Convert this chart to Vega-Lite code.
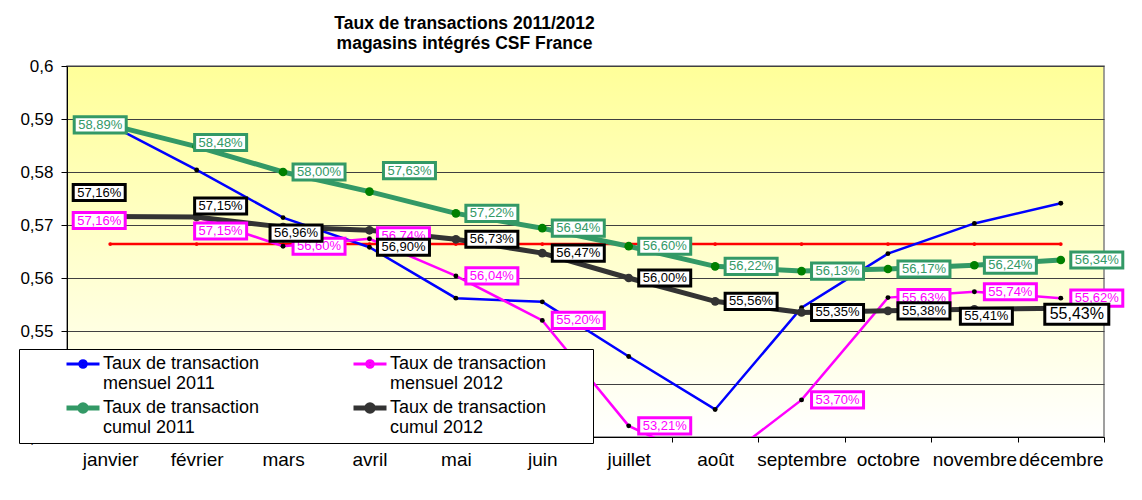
{
  "$schema": "https://vega.github.io/schema/vega-lite/v6.json",
  "width": 1037,
  "height": 371,
  "autosize": {"type": "none"},
  "padding": {"left": 67, "top": 66, "right": 38, "bottom": 63},
  "background": "white",
  "title": {
    "text": ["Taux de transactions 2011/2012", "magasins intégrés CSF France"],
    "fontSize": 17.5, "fontWeight": "bold", "color": "black", "font": "Liberation Sans",
    "anchor": "middle", "dx": -121, "offset": 5, "lineHeight": 20
  },
  "datasets": {
    "series": [
      {"mois": "janvier", "serie": "Taux de transaction mensuel 2011", "valeur": 0.5889},
      {"mois": "février", "serie": "Taux de transaction mensuel 2011", "valeur": 0.5804},
      {"mois": "mars", "serie": "Taux de transaction mensuel 2011", "valeur": 0.5714},
      {"mois": "avril", "serie": "Taux de transaction mensuel 2011", "valeur": 0.5658},
      {"mois": "mai", "serie": "Taux de transaction mensuel 2011", "valeur": 0.5562},
      {"mois": "juin", "serie": "Taux de transaction mensuel 2011", "valeur": 0.5555},
      {"mois": "juillet", "serie": "Taux de transaction mensuel 2011", "valeur": 0.5452},
      {"mois": "août", "serie": "Taux de transaction mensuel 2011", "valeur": 0.5352},
      {"mois": "septembre", "serie": "Taux de transaction mensuel 2011", "valeur": 0.5544},
      {"mois": "octobre", "serie": "Taux de transaction mensuel 2011", "valeur": 0.5646},
      {"mois": "novembre", "serie": "Taux de transaction mensuel 2011", "valeur": 0.5703},
      {"mois": "décembre", "serie": "Taux de transaction mensuel 2011", "valeur": 0.5741},
      {"mois": "janvier", "serie": "Taux de transaction mensuel 2012", "valeur": 0.5716},
      {"mois": "février", "serie": "Taux de transaction mensuel 2012", "valeur": 0.5715},
      {"mois": "mars", "serie": "Taux de transaction mensuel 2012", "valeur": 0.5660},
      {"mois": "avril", "serie": "Taux de transaction mensuel 2012", "valeur": 0.5674},
      {"mois": "mai", "serie": "Taux de transaction mensuel 2012", "valeur": 0.5604},
      {"mois": "juin", "serie": "Taux de transaction mensuel 2012", "valeur": 0.5520},
      {"mois": "juillet", "serie": "Taux de transaction mensuel 2012", "valeur": 0.5321},
      {"mois": "août", "serie": "Taux de transaction mensuel 2012", "valeur": 0.5245},
      {"mois": "septembre", "serie": "Taux de transaction mensuel 2012", "valeur": 0.5370},
      {"mois": "octobre", "serie": "Taux de transaction mensuel 2012", "valeur": 0.5563},
      {"mois": "novembre", "serie": "Taux de transaction mensuel 2012", "valeur": 0.5574},
      {"mois": "décembre", "serie": "Taux de transaction mensuel 2012", "valeur": 0.5562},
      {"mois": "janvier", "serie": "Taux de transaction cumul 2011", "valeur": 0.5889},
      {"mois": "février", "serie": "Taux de transaction cumul 2011", "valeur": 0.5848},
      {"mois": "mars", "serie": "Taux de transaction cumul 2011", "valeur": 0.5800},
      {"mois": "avril", "serie": "Taux de transaction cumul 2011", "valeur": 0.5763},
      {"mois": "mai", "serie": "Taux de transaction cumul 2011", "valeur": 0.5722},
      {"mois": "juin", "serie": "Taux de transaction cumul 2011", "valeur": 0.5694},
      {"mois": "juillet", "serie": "Taux de transaction cumul 2011", "valeur": 0.5660},
      {"mois": "août", "serie": "Taux de transaction cumul 2011", "valeur": 0.5622},
      {"mois": "septembre", "serie": "Taux de transaction cumul 2011", "valeur": 0.5613},
      {"mois": "octobre", "serie": "Taux de transaction cumul 2011", "valeur": 0.5617},
      {"mois": "novembre", "serie": "Taux de transaction cumul 2011", "valeur": 0.5624},
      {"mois": "décembre", "serie": "Taux de transaction cumul 2011", "valeur": 0.5634},
      {"mois": "janvier", "serie": "Taux de transaction cumul 2012", "valeur": 0.5716},
      {"mois": "février", "serie": "Taux de transaction cumul 2012", "valeur": 0.5715},
      {"mois": "mars", "serie": "Taux de transaction cumul 2012", "valeur": 0.5696},
      {"mois": "avril", "serie": "Taux de transaction cumul 2012", "valeur": 0.5690},
      {"mois": "mai", "serie": "Taux de transaction cumul 2012", "valeur": 0.5673},
      {"mois": "juin", "serie": "Taux de transaction cumul 2012", "valeur": 0.5647},
      {"mois": "juillet", "serie": "Taux de transaction cumul 2012", "valeur": 0.5600},
      {"mois": "août", "serie": "Taux de transaction cumul 2012", "valeur": 0.5556},
      {"mois": "septembre", "serie": "Taux de transaction cumul 2012", "valeur": 0.5535},
      {"mois": "octobre", "serie": "Taux de transaction cumul 2012", "valeur": 0.5538},
      {"mois": "novembre", "serie": "Taux de transaction cumul 2012", "valeur": 0.5541},
      {"mois": "décembre", "serie": "Taux de transaction cumul 2012", "valeur": 0.5543}
    ],
    "objectif": [
      {"mois": "janvier", "valeur": 0.5664},
      {"mois": "février", "valeur": 0.5664},
      {"mois": "mars", "valeur": 0.5664},
      {"mois": "avril", "valeur": 0.5664},
      {"mois": "mai", "valeur": 0.5664},
      {"mois": "juin", "valeur": 0.5664},
      {"mois": "juillet", "valeur": 0.5664},
      {"mois": "août", "valeur": 0.5664},
      {"mois": "septembre", "valeur": 0.5664},
      {"mois": "octobre", "valeur": 0.5664},
      {"mois": "novembre", "valeur": 0.5664},
      {"mois": "décembre", "valeur": 0.5664}
    ]
  },
  "encoding": {
    "x": {
      "field": "mois", "type": "nominal",
      "sort": ["janvier", "février", "mars", "avril", "mai", "juin", "juillet", "août", "septembre", "octobre", "novembre", "décembre"],
      "scale": {"type": "band", "paddingInner": 0, "paddingOuter": 0},
      "axis": {
        "title": null, "labelAngle": 0, "labelFontSize": 19, "labelColor": "black",
        "labelPadding": 8, "tickBand": "extent", "tickSize": 5, "tickColor": "black",
        "domainColor": "black", "labelOverlap": false, "labelLimit": 300, "grid": false
      }
    },
    "y": {
      "field": "valeur", "type": "quantitative",
      "scale": {"domain": [0.53, 0.6], "nice": false, "zero": false},
      "axis": {
        "title": null, "values": [0.53, 0.54, 0.55, 0.56, 0.57, 0.58, 0.59, 0.6],
        "format": ".2~f", "labelFontSize": 17, "labelColor": "black",
        "tickSize": 6, "tickColor": "black", "labelPadding": 8,
        "domainColor": "black", "grid": true, "gridColor": "#404040", "gridWidth": 1
      }
    }
  },
  "layer": [
    {
      "data": {"name": "objectif"},
      "mark": {"type": "line", "color": "#FF0000", "strokeWidth": 2.5, "clip": true,
        "point": {"filled": true, "color": "#FF0000", "size": 14, "opacity": 1}}
    },
    {
      "data": {"name": "series"},
      "mark": {"type": "line", "clip": true,
        "strokeWidth": {"expr": "indexof('' + datum.serie, 'cumul') >= 0 ? 5 : 2.5"}},
      "encoding": {
        "color": {
          "field": "serie", "type": "nominal",
          "scale": {
            "domain": ["Taux de transaction mensuel 2011", "Taux de transaction mensuel 2012", "Taux de transaction cumul 2011", "Taux de transaction cumul 2012"],
            "range": ["#0000FF", "#FF00FF", "#339966", "#333333"]
          },
          "legend": {
            "orient": "none", "legendX": -48, "legendY": 283,
            "columns": 2, "direction": "horizontal",
            "title": " ", "titleOrient": "right", "titlePadding": 41,
            "symbolType": "M-1,0H1M-0.2,0A0.2,0.2 0 1,0 0.2,0A0.2,0.2 0 1,0 -0.2,0Z",
            "symbolSize": 1089, "symbolStrokeWidth": 3, "symbolOffset": 49,
            "labelFontSize": 18, "labelColor": "black", "labelOffset": 11,
            "labelExpr": "['Taux de transaction', replace(datum.label, 'Taux de transaction ', '')]",
            "labelLimit": 400,
            "rowPadding": 1, "columnPadding": 52, "padding": 6,
            "strokeColor": "black", "fillColor": "white",
            "encode": {
              "symbols": {"update": {
                "fill": {"signal": "datum.value == 'Taux de transaction cumul 2011' ? '#008000' : datum.value == 'Taux de transaction cumul 2012' ? '#333333' : 'black'"},
                "strokeWidth": {"signal": "indexof('' + datum.value, 'cumul') >= 0 ? 5 : 3"}
              }},
              "labels": {"update": {"lineHeight": {"value": 20}}}
            }
          }
        }
      }
    },
    {
      "data": {"name": "series"},
      "mark": {"type": "point", "filled": true, "opacity": 1, "clip": true,
        "size": {"expr": "indexof('' + datum.serie, 'cumul') >= 0 ? 75 : 24"},
        "fill": {"expr": "datum.serie == 'Taux de transaction cumul 2011' ? '#008000' : datum.serie == 'Taux de transaction cumul 2012' ? '#333333' : 'black'"}}
    },
    {
      "data": {"name": "series"},
      "transform": [{"filter": "datum.serie == 'Taux de transaction mensuel 2012' && datum.valeur >= 0.53"}],
      "layer": [
        {
          "mark": {"type": "point", "shape": "M-1,-0.31H1V0.31H-1Z", "size": 2704, "filled": true,
            "fill": "white", "stroke": "#FF00FF", "strokeWidth": 3, "opacity": 1,
            "xOffset": {"expr": "datum.mois == 'janvier' ? -11 : datum.mois == 'février' ? 24 : datum.mois == 'avril' ? 34 : 36"},
            "yOffset": {"expr": "datum.mois == 'janvier' ? 4 : datum.mois == 'février' ? 14 : datum.mois == 'avril' ? -3 : 0"}}
        },
        {
          "mark": {"type": "text", "fontSize": 13, "color": "#FF00FF", "align": "center", "baseline": "middle",
            "xOffset": {"expr": "datum.mois == 'janvier' ? -11 : datum.mois == 'février' ? 24 : datum.mois == 'avril' ? 34 : 36"},
            "yOffset": {"expr": "datum.mois == 'janvier' ? 4 : datum.mois == 'février' ? 14 : datum.mois == 'avril' ? -3 : 0"}},
          "encoding": {"text": {"field": "valeur", "type": "quantitative", "format": ".2%"}}
        }
      ]
    },
    {
      "data": {"name": "series"},
      "transform": [{"filter": "datum.serie == 'Taux de transaction cumul 2011'"}],
      "layer": [
        {
          "mark": {"type": "point", "shape": "M-1,-0.31H1V0.31H-1Z", "size": 2704, "filled": true,
            "fill": "white", "stroke": "#339966", "strokeWidth": 3, "opacity": 1,
            "xOffset": {"expr": "datum.mois == 'janvier' ? -10 : datum.mois == 'février' ? 24 : datum.mois == 'avril' ? 40 : 36"},
            "yOffset": {"expr": "datum.mois == 'février' ? -4 : datum.mois == 'avril' ? -21 : 0"}}
        },
        {
          "mark": {"type": "text", "fontSize": 13, "color": "#339966", "align": "center", "baseline": "middle",
            "xOffset": {"expr": "datum.mois == 'janvier' ? -10 : datum.mois == 'février' ? 24 : datum.mois == 'avril' ? 40 : 36"},
            "yOffset": {"expr": "datum.mois == 'février' ? -4 : datum.mois == 'avril' ? -21 : 0"}},
          "encoding": {"text": {"field": "valeur", "type": "quantitative", "format": ".2%"}}
        }
      ]
    },
    {
      "data": {"name": "series"},
      "transform": [{"filter": "datum.serie == 'Taux de transaction cumul 2012'"}],
      "layer": [
        {
          "mark": {"type": "point", "shape": "M-1,-0.31H1V0.31H-1Z", "filled": true,
            "size": {"expr": "datum.mois == 'décembre' ? 4096 : 2704"},
            "fill": "white", "stroke": "black", "strokeWidth": 3, "opacity": 1,
            "xOffset": {"expr": "datum.mois == 'janvier' ? -11 : datum.mois == 'février' ? 24 : datum.mois == 'mars' ? 13 : datum.mois == 'avril' ? 34 : datum.mois == 'novembre' ? 12 : datum.mois == 'décembre' ? 16 : 36"},
            "yOffset": {"expr": "datum.mois == 'janvier' ? -24 : datum.mois == 'février' ? -11 : datum.mois == 'mars' ? 6 : datum.mois == 'avril' ? 17 : datum.mois == 'novembre' ? 7 : datum.mois == 'décembre' ? 6 : 0"}}
        },
        {
          "mark": {"type": "text", "color": "black", "align": "center", "baseline": "middle",
            "fontSize": {"expr": "datum.mois == 'décembre' ? 16 : 13"},
            "xOffset": {"expr": "datum.mois == 'janvier' ? -11 : datum.mois == 'février' ? 24 : datum.mois == 'mars' ? 13 : datum.mois == 'avril' ? 34 : datum.mois == 'novembre' ? 12 : datum.mois == 'décembre' ? 16 : 36"},
            "yOffset": {"expr": "datum.mois == 'janvier' ? -24 : datum.mois == 'février' ? -11 : datum.mois == 'mars' ? 6 : datum.mois == 'avril' ? 17 : datum.mois == 'novembre' ? 7 : datum.mois == 'décembre' ? 6 : 0"}},
          "encoding": {"text": {"field": "valeur", "type": "quantitative", "format": ".2%"}}
        }
      ]
    }
  ],
  "config": {
    "font": "Liberation Sans",
    "locale": {"number": {"decimal": ",", "thousands": " ", "grouping": [3], "currency": ["", " €"]}},
    "view": {
      "stroke": "#808080", "strokeWidth": 1.5,
      "fill": {"gradient": "linear", "x1": 0, "y1": 0, "x2": 0, "y2": 1,
        "stops": [{"offset": 0, "color": "#FFFF99"}, {"offset": 1, "color": "#FFFFFF"}]}
    }
  }
}
